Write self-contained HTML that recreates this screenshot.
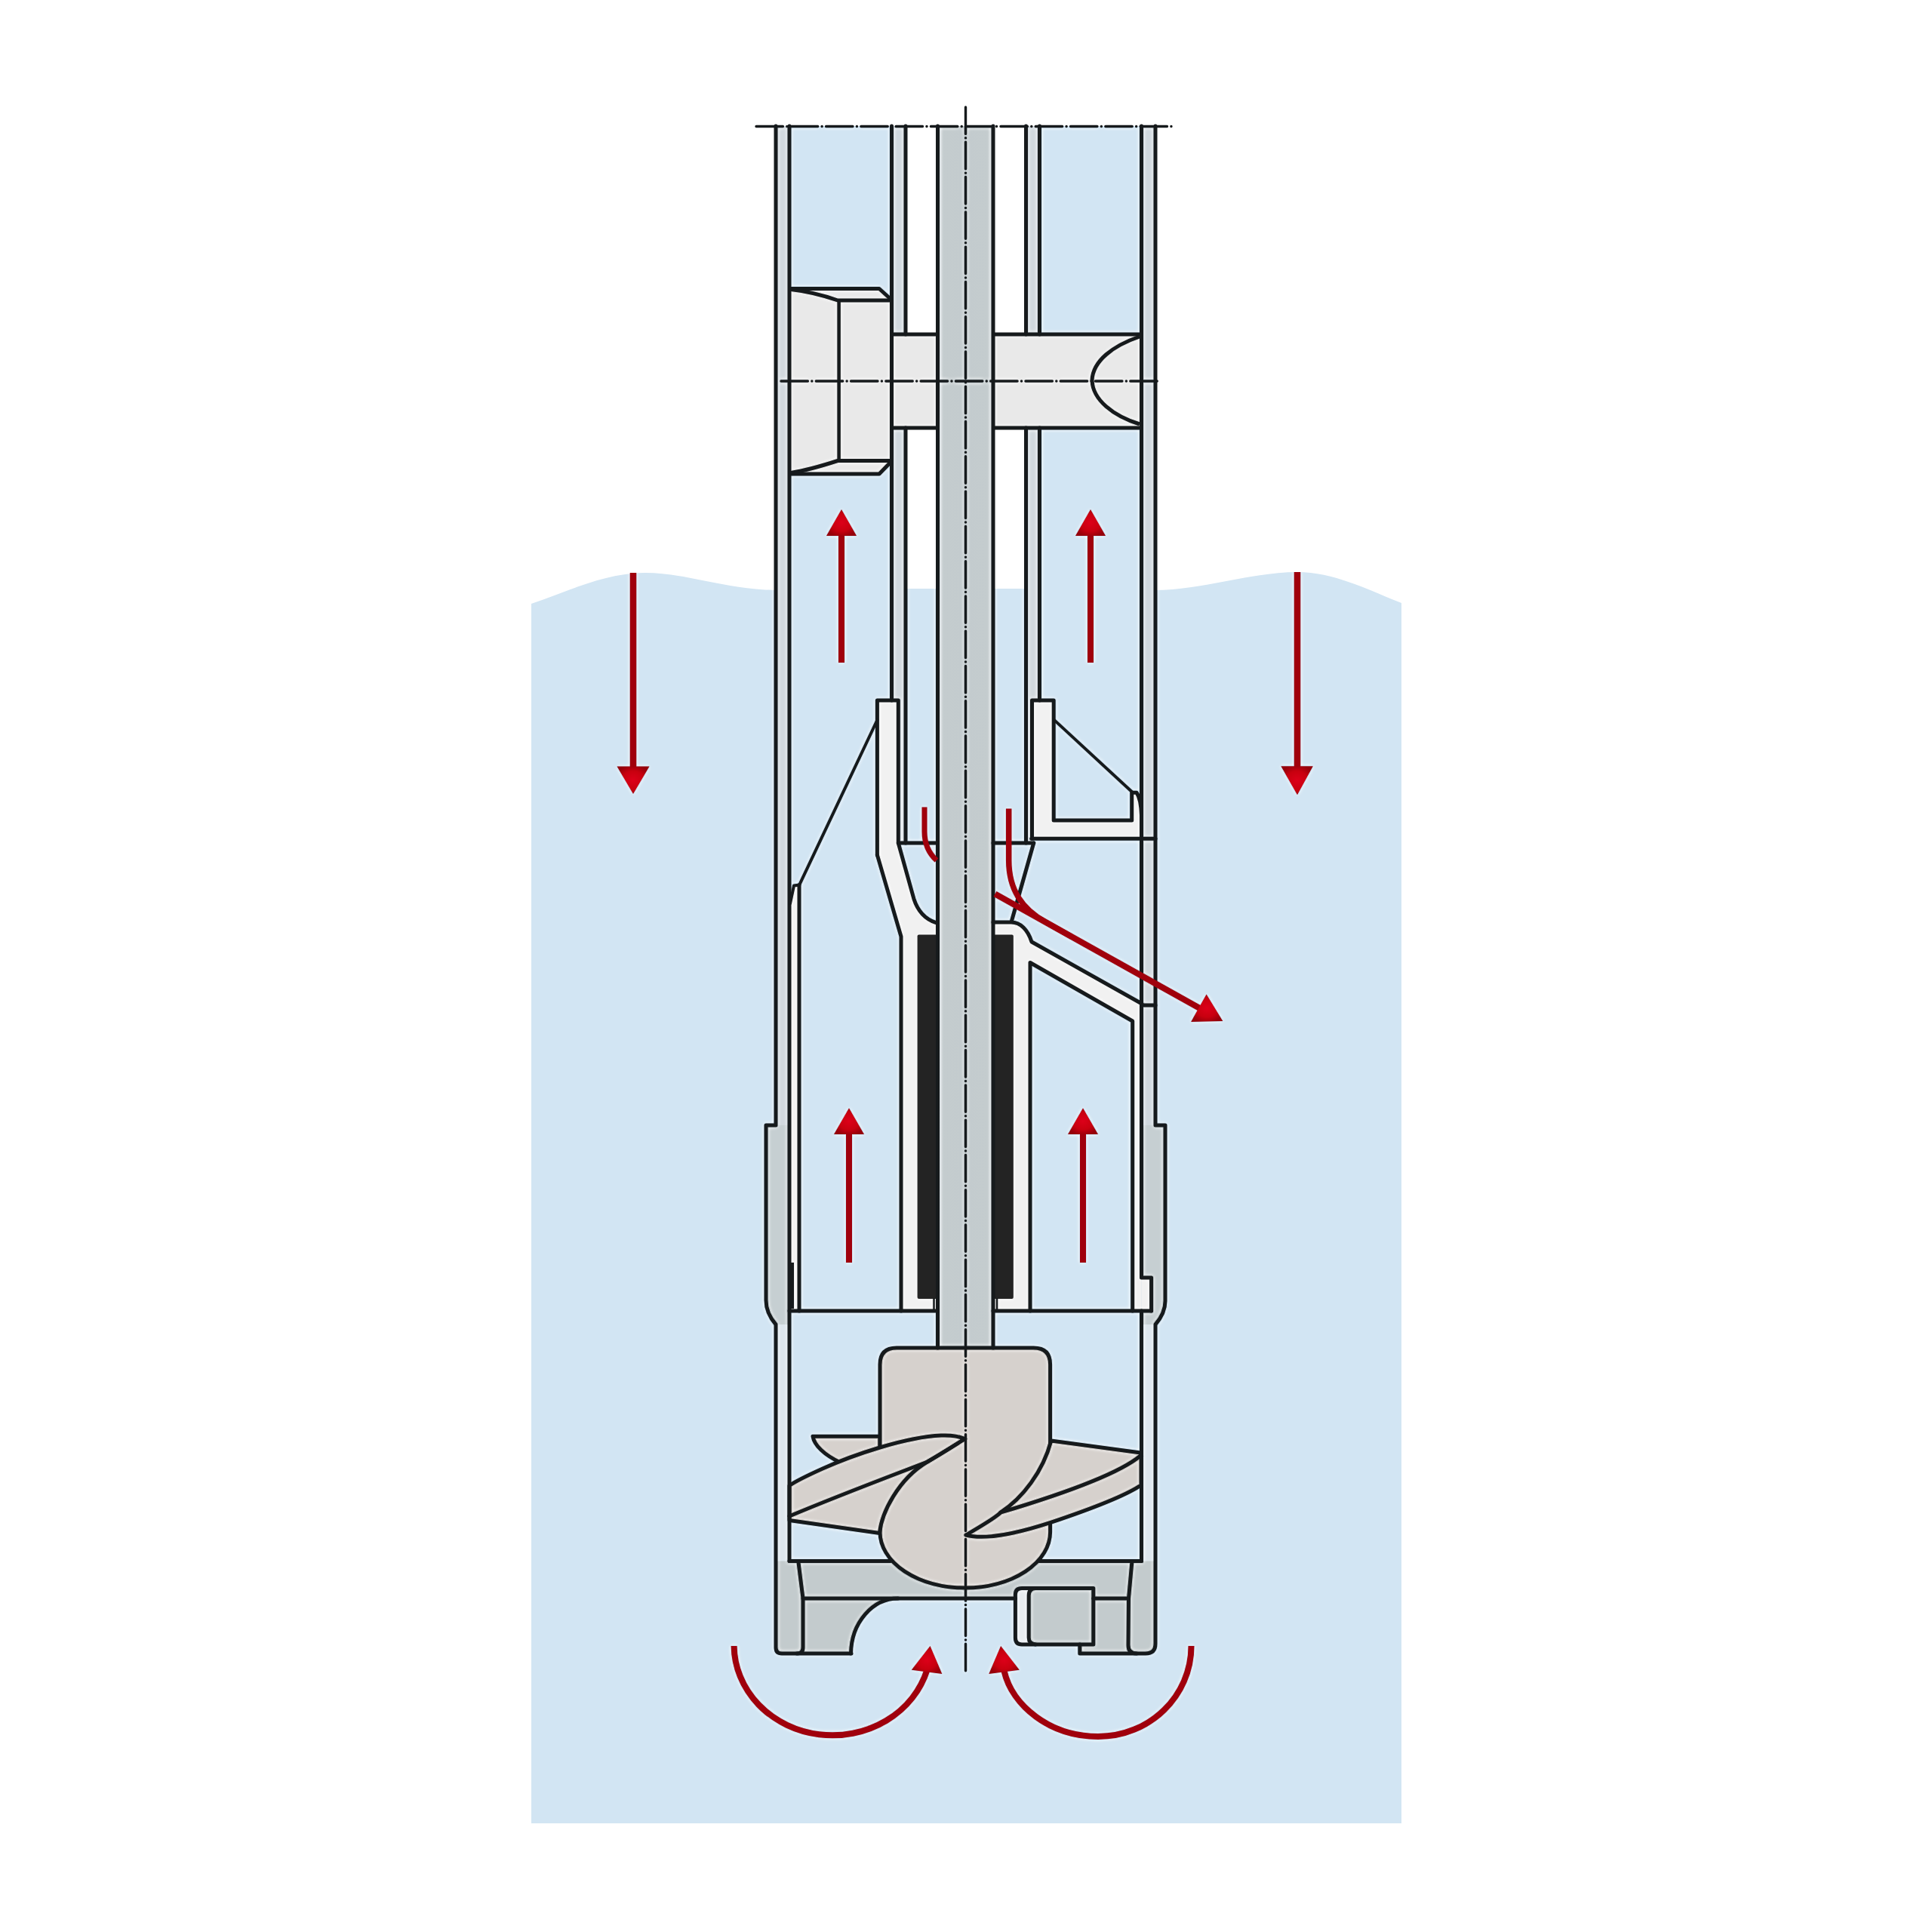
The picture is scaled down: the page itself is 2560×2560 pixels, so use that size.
<!DOCTYPE html>
<html><head><meta charset="utf-8"><title>Pump diagram</title>
<style>
html,body{margin:0;padding:0;background:#fff;width:2560px;height:2560px;overflow:hidden;font-family:"Liberation Sans",sans-serif;}
svg{display:block;}
</style></head><body>
<svg width="2560" height="2560" viewBox="0 0 2560 2560">
<defs>
<linearGradient id="shaftG" x1="0" x2="1" y1="0" y2="0">
<stop offset="0" stop-color="#dde3e7"/><stop offset="0.1" stop-color="#c4ccce"/><stop offset="0.5" stop-color="#c3cbce"/><stop offset="0.9" stop-color="#c4ccce"/><stop offset="1" stop-color="#dde3e7"/>
</linearGradient>
<radialGradient id="headG" cx="0.5" cy="0.5" r="0.55">
<stop offset="0" stop-color="#dc0019"/><stop offset="0.6" stop-color="#c8000f"/><stop offset="1" stop-color="#95000a"/>
</radialGradient>
<filter id="halo" x="0" y="0" width="2560" height="2560" filterUnits="userSpaceOnUse" color-interpolation-filters="sRGB">
<feColorMatrix in="SourceGraphic" type="matrix" values="0 0 0 0 0  0 0 0 0 0  0 0 0 0 0  -2 -2 -2 0 3.2" result="mask"/>
<feGaussianBlur in="mask" stdDeviation="2.4" result="blur"/>
<feMorphology in="mask" operator="dilate" radius="1" result="maskd"/>
<feComposite in="blur" in2="maskd" operator="out" result="ring0"/>
<feComponentTransfer in="ring0" result="ring"><feFuncA type="linear" slope="1.5" intercept="0"/></feComponentTransfer>
<feFlood flood-color="#ffffff" flood-opacity="1"/>
<feComposite in2="ring" operator="in" result="halo"/>
<feMerge><feMergeNode in="SourceGraphic"/><feMergeNode in="halo"/></feMerge>
</filter>
</defs>
<g filter="url(#halo)">
<rect x="0" y="0" width="2560" height="2560" fill="#ffffff"/>

<!-- ============ WATER ============ -->
<path id="water" fill="#d2e5f3" d="M704,800 C750,785 800,759 855,759 C910,759 960,781 1028,782 L1531,782 C1590,782 1660,758 1719,758 C1770,758 1820,785 1857,799 L1857,2416 L704,2416 Z"/>

<!-- ============ PUMP FILLS ============ -->
<g id="fills">
  <!-- channels / interior light blue -->
  <rect x="1046" y="167" width="466.5" height="1902" fill="#d2e5f3"/>
  <!-- white regions above water -->
  <rect x="1200" y="167" width="42.5" height="613" fill="#ffffff"/>
  <rect x="1316" y="167" width="43.5" height="613" fill="#ffffff"/>
  <!-- outer walls -->
  <rect x="1028" y="167" width="18" height="1324" fill="#d0d8de"/>
  <rect x="1512.5" y="167" width="18.5" height="1324" fill="#d0d8de"/>
  <path d="M1015,1491 L1046,1491 L1046,1760 L1028,1760 L1028,1755 C1020,1745 1015,1735 1015,1723 Z" fill="#c6cfd2"/>
  <path d="M1544,1491 L1512.5,1491 L1512.5,1760 L1531,1760 L1531,1755 C1539,1745 1544,1735 1544,1724 Z" fill="#c6cfd2"/>
  <rect x="1028" y="1755" width="18" height="314" fill="#dde6ed"/>
  <rect x="1512.5" y="1755" width="18.5" height="314" fill="#dde6ed"/>
  <!-- inner channel walls -->
  <rect x="1181.5" y="167" width="18.5" height="951" fill="#d0d8de"/>
  <rect x="1359.5" y="167" width="18" height="760" fill="#d0d8de"/>
  <rect x="1359.5" y="927" width="8" height="190" fill="#d0d8de"/>
  <!-- shaft -->
  <rect x="1242.5" y="167" width="73.5" height="1620" fill="url(#shaftG)"/>
</g>

<!-- ============ BOLT ============ -->
<g id="bolt" stroke="#161a1c" stroke-width="5" stroke-linejoin="round">
  <rect x="1181.5" y="443" width="61" height="124" fill="#e9e9e9" stroke="none"/>
  <path d="M1316,443 L1510,443 L1510,567 L1316,567 Z" fill="#e9e9e9" stroke="none"/>
  <path d="M1048,382.5 L1165,382.5 L1181.5,397.3 L1181.5,611 L1165,628 L1048,628 Z" fill="#e9e9e9" stroke="none"/>
  <path d="M1048,382.5 L1165,382.5 L1181.5,397.5" fill="none"/>
  <path d="M1048,383.5 C1070,386 1090,391 1110,398 L1181.5,398" fill="none"/>
  <path d="M1111.6,398 L1111.6,610.5" fill="none" stroke-width="4.5"/>
  <path d="M1048,626.5 C1070,623 1090,617 1110,610.5 L1181.5,610.5" fill="none"/>
  <path d="M1048,628 L1165,628 L1181.5,611" fill="none"/>
  <path d="M1181.5,443 L1242.5,443 M1181.5,567 L1242.5,567 M1316,443 L1510,443 M1316,567 L1510,567" fill="none"/>
  <path d="M1510,446 C1475,458 1448,478 1447,504 C1448,530 1475,551 1510,562" fill="none"/>
</g>

<!-- ============ COLLARS & HOUSING FILLS ============ -->
<g id="housing">
  <!-- left strip between L2 and x1059 -->
  <path d="M1046,1197 L1052,1173 L1059,1172 L1059,1737 L1046,1737 Z" fill="#f1f1f1"/>
  <!-- left collar + stator housing -->
  <path d="M1162.4,927.9 L1190.3,927.9 L1190.3,1117 L1210.8,1190.7 C1216,1207 1226,1218 1240.3,1222.6 L1242.5,1222.6 L1242.5,1737 L1194,1737 L1194,1241 L1162.4,1132.9 Z" fill="#f1f1f1"/>
  <rect x="1512.5" y="1693" width="13.1" height="44" fill="#f1f1f1"/>
  <!-- right collar L -->
  <path d="M1367.5,928 L1396.2,928 L1396.2,1087 L1499.7,1087 L1499.7,1050.3 L1506,1050.3 C1510,1056 1512,1066 1512.5,1080 L1512.5,1111.2 L1367.5,1111.2 Z" fill="#f1f1f1"/>
  <!-- right housing -->
  <path d="M1316,1222 L1340,1222 C1352,1222 1362,1232 1367,1248 L1512.5,1330 L1512.5,1737 L1316,1737 Z" fill="#f1f1f1"/>
  <path d="M1365,1275.5 L1500.7,1353 L1500.7,1737 L1365,1737 Z" fill="#d2e5f3"/>
  <!-- black sleeves -->
  <rect x="1215.6" y="1238.4" width="26.9" height="482.6" fill="#232323" rx="2"/>
  <rect x="1316" y="1238.4" width="26.8" height="482.6" fill="#232323" rx="2"/>
</g>

<!-- ============ LOWER HOUSING FILLS ============ -->
<g id="lowerfills">
  <!-- suction plate -->
  <path d="M1046,2068.5 L1512.5,2068.5 L1495,2118 L1064,2118 Z" fill="#c3cbcd"/>
  <!-- left outer bottom wall -->
  <path d="M1028,2068.5 L1058,2068.5 L1064,2118 L1064,2183 Q1064,2191 1056,2191 L1036,2191 Q1028,2191 1028,2183 Z" fill="#c3cbcd"/>
  <!-- left bottom block -->
  <path d="M1064,2118 L1190,2118 A62.5,74 0 0 0 1127.5,2191 L1064,2191 Z" fill="#c3cbcd"/>
  <!-- right wall bottom -->
  <path d="M1500,2068.5 L1531,2068.5 L1531,2178 Q1531,2191 1518,2191 L1506,2191 Q1495,2191 1495,2180 L1495,2118 Z" fill="#c3cbcd"/>
  <!-- right bottom block -->
  <path d="M1448.8,2118 L1495,2118 L1495,2191 L1430.8,2191 L1430.8,2179 L1448.8,2179 Z" fill="#c3cbcd"/>
  <!-- nut -->
  <path d="M1448.8,2104.4 L1354,2104.4 Q1345.4,2104.4 1345.4,2113 L1345.4,2170 Q1345.4,2179 1354,2179 L1448.8,2179 Z" fill="#c3cbcd"/>
  <path d="M1354,2106 L1370,2106 Q1363.2,2108 1363.2,2116 L1363.2,2168 Q1363.2,2176 1370,2177 L1354,2177 Q1347.5,2177 1347.5,2170 L1347.5,2113 Q1347.5,2106 1354,2106 Z" fill="#e6ebef"/>
</g>

<!-- ============ IMPELLER ============ -->
<g id="impeller" fill="#d6d1cd" stroke="#161a1c" stroke-width="5" stroke-linejoin="round" stroke-linecap="round">
  <!-- back blade -->
  <path d="M1077,1903.3 L1166,1903.3 L1166,1934 L1114,1938.2 C1092,1928 1079,1915 1077,1903.3 Z"/>
  <!-- hub -->
  <path d="M1166,2030 L1166,1808 Q1166,1786 1188,1786 L1369.6,1786 Q1391.6,1786 1391.6,1808 L1391.6,2030 A112.8,74 0 0 1 1166,2030 Z"/>
  <!-- main left blade -->
  <path d="M1278.7,1906.5 C1268,1902 1258,1901.5 1247,1902 C1200,1904 1130,1928 1090,1946 C1070,1955 1055,1962 1046,1968.5 L1046,2014.6 L1165.5,2031.4 C1168,2005 1190,1960 1228.8,1937 C1248,1926 1265,1915 1278.7,1906.5 Z"/>
  <path fill="none" d="M1278.7,1906.5 C1265,1915 1248,1926 1228.8,1937 C1190,1952 1110,1982 1046,2009"/>
  <!-- right blade -->
  <path d="M1392.8,1909 L1509.6,1924.7 C1513,1926 1513,1930 1512,1932 L1512,1969.3 L1509.6,1969.4 C1490,1982 1450,1998 1392.9,2017.2 C1360,2028 1310,2042 1279.8,2034 C1300,2022 1318,2012 1325.7,2004.2 C1355,1985 1382,1950 1392.8,1909 Z"/>
  <path fill="none" d="M1511,1929 C1480,1955 1400,1982 1325.7,2004.2"/>
</g>

<!-- ============ LINES ============ -->
<g id="lines" fill="none" stroke="#161a1c" stroke-width="5" stroke-linejoin="round" stroke-linecap="round">
  <!-- outer left -->
  <path d="M1028,167 L1028,1491 L1015,1491 L1015,1723 C1015,1738 1022,1748 1028,1755 L1028,2183 Q1028,2191 1036,2191 L1128,2191"/>
  <path d="M1046,167 L1046,2068.5"/>
  <path d="M1181.5,167 L1181.5,927.9"/>
  <path d="M1200,167 L1200,443 M1200,567 L1200,1117"/>
  <path d="M1242.5,167 L1242.5,1786 M1316,167 L1316,1786"/>
  <path d="M1359.5,167 L1359.5,443 M1359.5,567 L1359.5,1117"/>
  <path d="M1377.5,167 L1377.5,443 M1377.5,567 L1377.5,928"/>
  <path d="M1512.5,167 L1512.5,1693 L1525.6,1693 L1525.6,1737 M1512.5,1737 L1512.5,2068.5"/>
  <path d="M1531,167 L1531,1491 L1544,1491 L1544,1724 C1544,1738 1537,1748 1531,1755 L1531,2178 Q1531,2191 1518,2191 L1430.8,2191 L1430.8,2179"/>
  <!-- left collar -->
  <path d="M1162.4,1132.9 L1162.4,927.9 L1190.3,927.9 L1190.3,1117 L1210.8,1190.7 C1216,1207 1226,1218 1240.3,1222.6"/>
  <path d="M1162.4,1132.9 L1194,1241 L1194,1737"/>
  <path d="M1190.3,1117 L1242.5,1117"/>
  <path d="M1162.4,954 L1059.3,1172.4 L1052,1173.5 L1047,1197" stroke-width="4"/>
  <path d="M1059,1172.4 L1059,1737"/>
  <path d="M1046,1737 L1242.5,1737"/>
  <!-- right collar -->
  <path d="M1367.5,1111.2 L1367.5,928 L1396.2,928 L1396.2,1087 L1499.7,1087 L1499.7,1050.3 L1506,1050.3 C1510,1056 1512,1066 1512.5,1080"/>
  <path d="M1396.2,953.4 L1501,1050.3" stroke-width="4"/>
  <path d="M1366.8,1111.2 L1531,1111.2"/>
  <path d="M1316,1117 L1369.7,1117"/>
  <path d="M1369.7,1117 L1340,1222 M1316,1222 L1340,1222 C1352,1222 1362,1232 1367,1248 L1513,1330"/>
  <path d="M1365,1737 L1365,1275.5 L1500.7,1353 L1500.7,1737"/>
  <path d="M1512.5,1332 L1531,1332"/>
  <path d="M1316,1737 L1525.6,1737"/>
  <path d="M1237.5,1721 L1237.5,1737 M1321,1721 L1321,1737" stroke-width="2.5"/>
  <!-- lower chamber -->
  <path d="M1046,2068.5 L1180,2068.5 M1377,2068.5 L1512.5,2068.5"/>
  <path d="M1058,2070.5 L1064,2118 L1064,2183 Q1064,2191 1056,2191"/>
  <path d="M1064,2118 L1345.4,2118 M1448.8,2118 L1495,2118"/>
  <path d="M1190,2118 A62.5,74 0 0 0 1127.5,2191"/>
  <path d="M1500,2068.5 L1495.5,2118 L1495,2180 Q1495,2191 1506,2191"/>
  <!-- nut -->
  <path d="M1448.8,2104.4 L1354,2104.4 Q1345.4,2104.4 1345.4,2113 L1345.4,2170 Q1345.4,2179 1354,2179 L1448.8,2179 M1448.8,2104.4 L1448.8,2179"/>
  <path d="M1372,2104.4 Q1363.2,2105 1363.2,2114 L1363.2,2170 Q1363.2,2178 1372,2179"/>
</g>
<rect x="1046" y="1673" width="6" height="61" fill="#161a1c"/>

<!-- ============ CENTER / DASH-DOT LINES ============ -->
<g fill="none" stroke="#161a1c" stroke-width="3.4" stroke-linecap="round" stroke-dasharray="35.4 5.4 0.1 5.38">
  <path d="M1279.5,142 L1279.5,2216"/>
  <path d="M1002,167.5 L1557,167.5"/>
  <path d="M1035,505 L1538,505"/>
</g>

<!-- ============ RED ARROWS ============ -->
<g id="arrows" fill="none" stroke="#a0000c" stroke-linecap="butt">
  <path d="M839,759 L839,1020" stroke-width="8.5"/>
  <path d="M1719,758 L1719,1020" stroke-width="8.5"/>
  <path d="M1115,878 L1115,706" stroke-width="8"/>
  <path d="M1445,878 L1445,706" stroke-width="8"/>
  <path d="M1125,1673 L1125,1499" stroke-width="8"/>
  <path d="M1435,1673 L1435,1499" stroke-width="8"/>
  <path d="M1225,1069.4 L1225,1102 C1225,1118 1230,1130 1241,1140" stroke-width="7"/>
  <path d="M1336.7,1071.6 L1336.7,1140 C1336.7,1180 1355,1204.8 1385,1221.6 L1420,1241.2" stroke-width="7.5"/>
  <path d="M1318.5,1184.4 L1592,1337.3" stroke-width="8"/>
  <path d="M972.6,2181 A130.5,119.8 0 0 0 1228.4,2213" stroke-width="8"/>
  <path d="M1578.5,2181 C1578.5,2247.3 1523.5,2301 1455,2301 C1391,2301 1341,2260 1330.5,2214" stroke-width="8"/>
</g>
<g id="heads" fill="url(#headG)">
  <polygon points="817.5,1015.5 860.5,1015.5 839,1052"/>
  <polygon points="1697.4,1015.2 1739.8,1015.2 1719,1053.3"/>
  <polygon points="1095,710 1135,710 1115,675"/>
  <polygon points="1425,710 1465,710 1445,675"/>
  <polygon points="1105,1503 1145,1503 1125,1468.3"/>
  <polygon points="1415,1503 1455,1503 1435,1468.3"/>
  <polygon points="1620.3,1353 1598.6,1317.6 1578.1,1354"/>
  <polygon points="1232.5,2181.1 1207.8,2212.8 1248.3,2218.1"/>
  <polygon points="1326.1,2181.1 1350.8,2212.8 1310.3,2218.1"/>
</g>

</g>
</svg>
</body></html>
